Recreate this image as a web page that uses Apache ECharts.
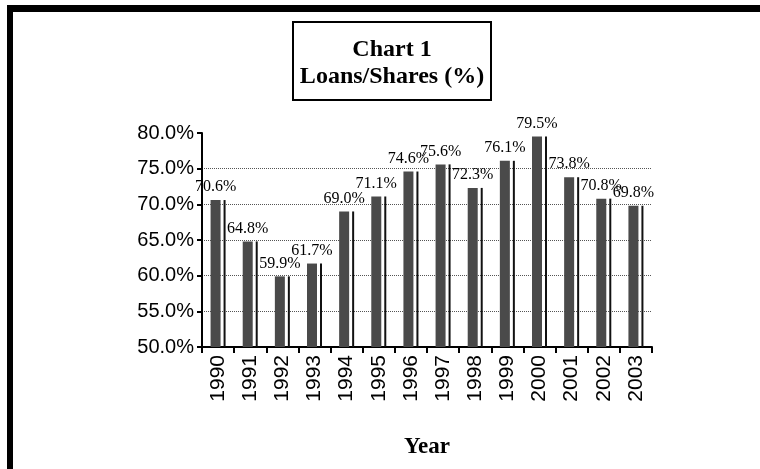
<!DOCTYPE html>
<html>
<head>
<meta charset="utf-8">
<script src="https://cdn.jsdelivr.net/npm/echarts@6/dist/echarts.min.js"></script>
<style>
  html, body { margin: 0; padding: 0; background: #fff; }
  #main { width: 760px; height: 469px; }
</style>
</head>
<body>
<div id="main"></div>
<script>
// data
var years = ['1990', '1991', '1992', '1993', '1994', '1995', '1996', '1997', '1998', '1999', '2000', '2001', '2002', '2003']
var loanShare = [70.6, 64.8, 59.9, 61.7, 69.0, 71.1, 74.6, 75.6, 72.3, 76.1, 79.5, 73.8, 70.8, 69.8]
var yMin = 50
var yMax = 80
var yStep = 5

var serif = '"Liberation Serif", "Times New Roman", serif'
var sans = '"Liberation Sans", Arial, sans-serif'

var option = {
  animation: false,
  backgroundColor: '#fff',
  grid: { left: 202, right: 108, top: 133, bottom: 122 },
  xAxis: {
    type: 'category',
    data: years,
    name: 'Year',
    nameLocation: 'middle',
    nameGap: 89,
    nameTextStyle: { fontFamily: serif, fontWeight: 'bold', fontSize: 23, color: '#000' },
    axisLine: { lineStyle: { color: '#000', width: 2 } },
    axisTick: { show: true, length: 6, lineStyle: { color: '#000', width: 2 } },
    axisLabel: { rotate: 90, margin: 8, fontFamily: sans, fontSize: 21, color: '#000', interval: 0 }
  },
  yAxis: {
    type: 'value',
    min: yMin,
    max: yMax,
    interval: yStep,
    axisLine: { show: true, lineStyle: { color: '#000', width: 2 } },
    axisTick: { show: true, length: 5, lineStyle: { color: '#000', width: 2 } },
    axisLabel: {
      margin: 8, fontFamily: sans, fontSize: 20, color: '#000',
      formatter: function (v) { return v.toFixed(1) + '%' }
    },
    splitLine: { show: true, showMaxLine: false, lineStyle: { color: '#555', type: 'dotted', width: 1 } }
  },
  series: [
    {
      name: 'Loans/Shares',
      type: 'bar',
      data: loanShare,
      barWidth: 10,
      barGap: '30%',
      itemStyle: { color: '#4a4a4a' },
      label: {
        show: true,
        position: 'top',
        distance: 5,
        fontFamily: serif,
        fontSize: 16,
        color: '#000',
        formatter: function (p) { return p.value.toFixed(1) + '%' }
      }
    },
    {
      // thin shadow line drawn beside each bar
      name: 'edge',
      type: 'bar',
      data: loanShare,
      barWidth: 2,
      itemStyle: { color: '#111' },
      silent: true
    }
  ],
  graphic: [
    { type: 'rect', shape: { x: 7, y: 5, width: 753, height: 7 }, style: { fill: '#000' } },
    { type: 'rect', shape: { x: 7, y: 5, width: 6, height: 464 }, style: { fill: '#000' } },
    { type: 'rect', shape: { x: 293, y: 22, width: 198, height: 78 }, style: { fill: '#fff', stroke: '#000', lineWidth: 2 } },
    { type: 'text', x: 392, y: 50, style: { text: 'Chart 1', font: 'bold 24px ' + serif, textAlign: 'center', textVerticalAlign: 'middle', fill: '#000' } },
    { type: 'text', x: 392, y: 77, style: { text: 'Loans/Shares (%)', font: 'bold 24px ' + serif, textAlign: 'center', textVerticalAlign: 'middle', fill: '#000' } }
  ]
}

var myChart = echarts.init(document.getElementById('main'))
myChart.setOption(option)
</script>
</body>
</html>
